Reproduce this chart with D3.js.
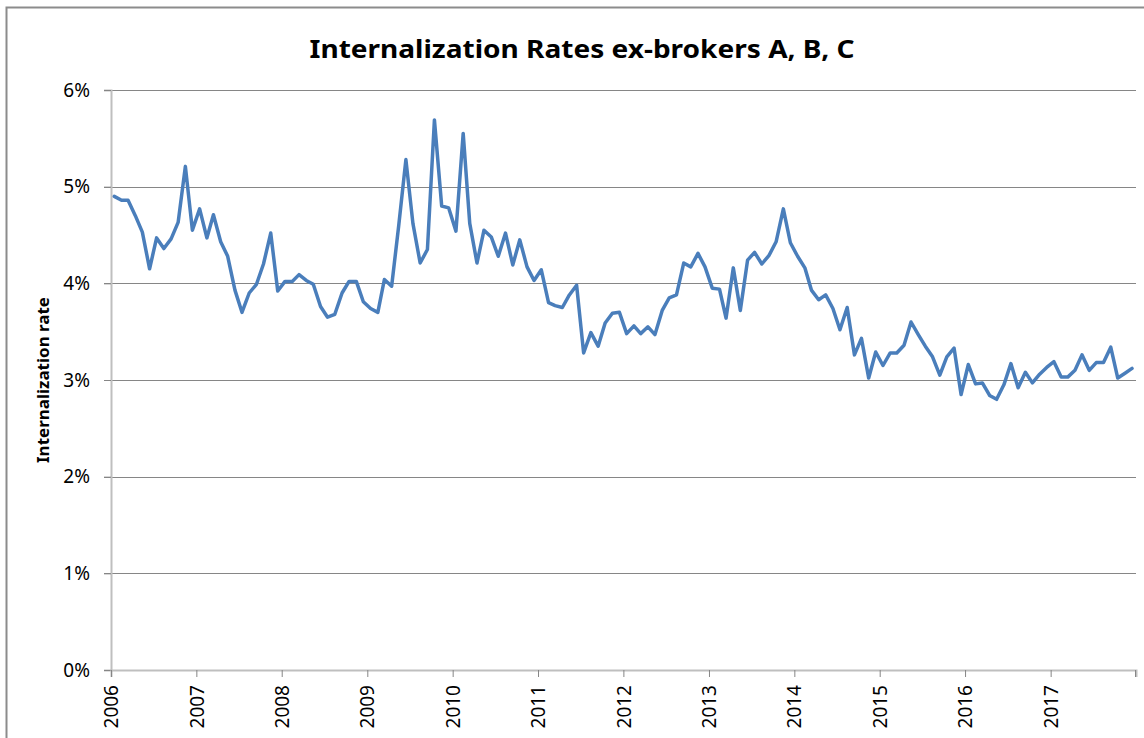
<!DOCTYPE html>
<html>
<head>
<meta charset="utf-8">
<script src="https://cdn.jsdelivr.net/npm/d3@7"></script>
<style>
    body { margin: 0; background: #fff; }
    text { font-family: "Noto Sans", "Open Sans", sans-serif; }
</style>
</head>
<body>
<svg id="chart" width="1144" height="738"></svg>
<script>
//chart data, one value per month (in %)
var years = [2006, 2007, 2008, 2009, 2010, 2011, 2012, 2013, 2014, 2015, 2016, 2017];
var rates2006 = [4.90, 4.86, 4.86, 4.70, 4.53, 4.15, 4.47, 4.36, 4.46, 4.63, 5.21, 4.55];
var rates2007 = [4.77, 4.47, 4.71, 4.43, 4.28, 3.93, 3.70, 3.90, 3.99, 4.20, 4.52, 3.92];
var rates2008 = [4.02, 4.02, 4.09, 4.03, 3.99, 3.76, 3.65, 3.68, 3.90, 4.02, 4.02, 3.81];
var rates2009 = [3.74, 3.70, 4.04, 3.97, 4.59, 5.28, 4.62, 4.21, 4.35, 5.69, 4.80, 4.78];
var rates2010 = [4.54, 5.55, 4.62, 4.21, 4.55, 4.48, 4.28, 4.52, 4.19, 4.45, 4.17, 4.03];
var rates2011 = [4.14, 3.80, 3.77, 3.75, 3.88, 3.98, 3.28, 3.49, 3.35, 3.59, 3.69, 3.70];
var rates2012 = [3.48, 3.56, 3.48, 3.55, 3.47, 3.72, 3.85, 3.88, 4.21, 4.17, 4.31, 4.17];
var rates2013 = [3.95, 3.94, 3.64, 4.16, 3.72, 4.24, 4.32, 4.20, 4.29, 4.43, 4.77, 4.42];
var rates2014 = [4.28, 4.16, 3.93, 3.83, 3.88, 3.74, 3.52, 3.75, 3.26, 3.43, 3.02, 3.29];
var rates2015 = [3.15, 3.28, 3.28, 3.36, 3.60, 3.47, 3.35, 3.24, 3.05, 3.24, 3.33, 2.85];
var rates2016 = [3.16, 2.96, 2.97, 2.84, 2.80, 2.95, 3.17, 2.92, 3.08, 2.97, 3.06, 3.13];
var rates2017 = [3.19, 3.03, 3.03, 3.10, 3.26, 3.10, 3.18, 3.18, 3.34, 3.02, 3.07, 3.12];
var yTicks = [0, 1, 2, 3, 4, 5, 6];

var title = "Internalization Rates ex-brokers A, B, C";
var yTitle = "Internalization rate";

//build monthly points (mid month)
var allYears = [rates2006, rates2007, rates2008, rates2009, rates2010, rates2011,
    rates2012, rates2013, rates2014, rates2015, rates2016, rates2017];
var data = [];
allYears.forEach(function (arr, k) {
    arr.forEach(function (v, m) {
        data.push({date: new Date(years[k], m, 15), value: v});
    });
});

var svg = d3.select("#chart");

//outer frame
svg.append("rect")
    .attr("x", 6.5).attr("y", 7.5)
    .attr("width", 1150).attr("height", 750)
    .attr("fill", "none")
    .attr("stroke", "#8c8c8c")
    .attr("stroke-width", 2);

//scales
var x = d3.scaleTime()
    .domain([new Date(2006, 0, 1), new Date(2018, 0, 1)])
    .range([111, 1136]);
var y = d3.scaleLinear()
    .domain([0, 6])
    .range([670, 90]);

//gridlines
svg.append("g")
    .selectAll("line")
    .data(yTicks.slice(1))
    .enter()
    .append("line")
    .attr("x1", 104).attr("x2", 1136)
    .attr("y1", function (d) {return Math.round(y(d)) + 0.5})
    .attr("y2", function (d) {return Math.round(y(d)) + 0.5})
    .attr("stroke", "#868686")
    .attr("stroke-width", 1);

//y axis
var yAxis = svg.append("g")
    .attr("transform", "translate(111,0)")
    .call(d3.axisLeft(y).tickValues(yTicks).tickSize(7).tickPadding(14)
        .tickFormat(function (d) {return d + "%"}));
yAxis.select(".domain").attr("stroke", "#bfbfbf").attr("stroke-width", 2);
yAxis.selectAll(".tick line").attr("stroke", "#868686");
yAxis.selectAll(".tick text")
    .attr("font-size", "19px")
    .attr("fill", "#000");

//x axis, a label for each year
var yearDates = years.map(function (yr) {return new Date(yr, 0, 1)});
var xAxis = svg.append("g")
    .attr("transform", "translate(0,670)")
    .call(d3.axisBottom(x).tickValues(yearDates).tickSize(7)
        .tickFormat(d3.timeFormat("%Y")));
xAxis.select(".domain").attr("stroke", "#bfbfbf").attr("stroke-width", 2);
xAxis.selectAll(".tick line").attr("stroke", "#868686");
xAxis.selectAll(".tick text")
    .attr("font-size", "19px")
    .attr("fill", "#000")
    .attr("text-anchor", "end")
    .attr("dy", "0.35em")
    .attr("transform", "translate(0,6) rotate(-90)")
    .attr("x", -9).attr("y", 0);
//closing tick at the end of the axis
xAxis.append("line")
    .attr("x1", 1135.5).attr("x2", 1135.5)
    .attr("y1", 0).attr("y2", 7)
    .attr("stroke", "#868686");

//the line
var line = d3.line()
    .x(function (d) {return x(d.date)})
    .y(function (d) {return y(d.value)});

svg.append("path")
    .datum(data)
    .attr("d", line)
    .attr("fill", "none")
    .attr("stroke", "#4a7ebb")
    .attr("stroke-width", 3.5)
    .attr("stroke-linejoin", "round")
    .attr("stroke-linecap", "round");

//titles
svg.append("text")
    .attr("x", 582).attr("y", 58)
    .attr("text-anchor", "middle")
    .attr("font-size", "25px")
    .attr("font-weight", "bold")
    .attr("textLength", 545)
    .attr("lengthAdjust", "spacingAndGlyphs")
    .text(title);

svg.append("text")
    .attr("transform", "translate(49,380) rotate(-90)")
    .attr("text-anchor", "middle")
    .attr("font-size", "16px")
    .attr("font-weight", "bold")
    .attr("textLength", 166)
    .attr("lengthAdjust", "spacingAndGlyphs")
    .text(yTitle);
</script>
</body>
</html>
